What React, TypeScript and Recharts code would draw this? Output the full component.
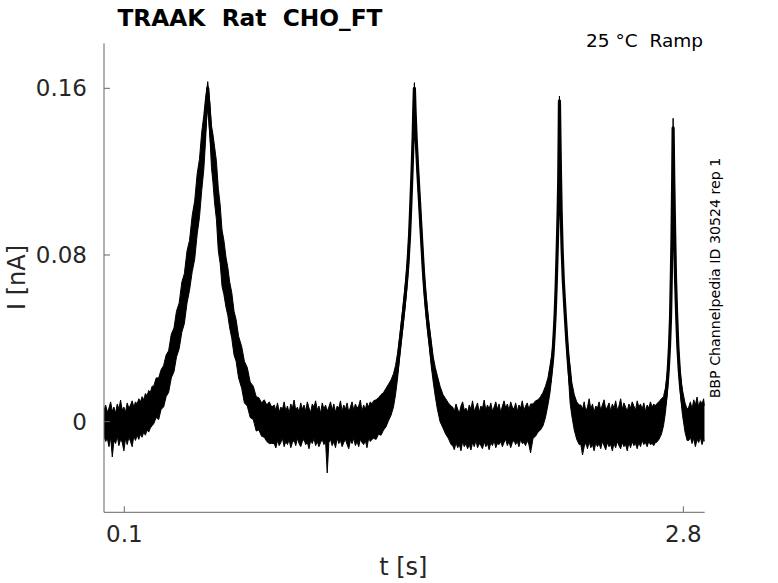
import React from "react";
import { ComposedChart, Area, Line, XAxis, YAxis } from "recharts";

// Baseline rows: [t (s), noise low (nA), noise high (nA)]
// Peak rows:     [t (s), band low (nA), band high (nA), trace centre (nA)]
const baseline0: number[][] = [
  [0.002, -0.007, 0.0055], [0.01, -0.0095, 0.008], [0.018, -0.008, 0.0045], [0.026, -0.012, 0.0065],
  [0.034, -0.0075, 0.0095], [0.042, -0.0169, 0.005], [0.05, -0.009, 0.007], [0.058, -0.0105, 0.004],
  [0.066, -0.007, 0.0085], [0.074, -0.0115, 0.006], [0.082, -0.0085, 0.0104], [0.09, -0.01, 0.0055],
  [0.098, -0.014, 0.007], [0.106, -0.008, 0.0045], [0.114, -0.011, 0.009], [0.122, -0.0075, 0.0065],
  [0.13, -0.0095, 0.008], [0.138, -0.012, 0.01], [0.146, -0.007, 0.007], [0.154, -0.009, 0.0095],
  [0.162, -0.0065, 0.0085], [0.17, -0.0085, 0.011], [0.178, -0.006, 0.0095], [0.186, -0.0075, 0.012],
  [0.194, -0.005, 0.0105], [0.202, -0.0065, 0.0135], [0.21, -0.004, 0.0125], [0.218, -0.005, 0.015],
  [0.226, -0.003, 0.014], [0.234, -0.002, 0.017],
];

const peak1: number[][] = [
  [0.242, -0.001, 0.017, 0.008], [0.254, 0.002, 0.021, 0.01], [0.266, 0.001, 0.021, 0.012],
  [0.278, 0.006, 0.025, 0.014], [0.29, 0.007, 0.027, 0.018], [0.302, 0.012, 0.032, 0.021],
  [0.314, 0.014, 0.034, 0.025], [0.327, 0.021, 0.042, 0.03], [0.34, 0.024, 0.045, 0.035],
  [0.352, 0.031, 0.053, 0.041], [0.365, 0.035, 0.057, 0.047], [0.378, 0.043, 0.067, 0.053],
  [0.39, 0.047, 0.071, 0.06], [0.403, 0.057, 0.082, 0.068], [0.415, 0.063, 0.087, 0.076],
  [0.428, 0.072, 0.099, 0.084], [0.44, 0.078, 0.106, 0.093], [0.452, 0.09, 0.119, 0.103],
  [0.463, 0.098, 0.126, 0.113], [0.474, 0.111, 0.139, 0.124], [0.484, 0.121, 0.147, 0.135],
  [0.492, 0.134, 0.155, 0.145], [0.498, 0.146, 0.159, 0.153], [0.503, 0.156, 0.1632, 0.16],
  [0.508, 0.146, 0.158, 0.152], [0.514, 0.136, 0.152, 0.143], [0.521, 0.122, 0.142, 0.134],
  [0.528, 0.115, 0.138, 0.127], [0.536, 0.105, 0.132, 0.121], [0.545, 0.097, 0.125, 0.11],
  [0.554, 0.082, 0.112, 0.099], [0.563, 0.076, 0.104, 0.089], [0.572, 0.065, 0.092, 0.08],
  [0.581, 0.061, 0.087, 0.074], [0.591, 0.055, 0.079, 0.068], [0.6, 0.051, 0.074, 0.062],
  [0.609, 0.045, 0.067, 0.057], [0.619, 0.04, 0.062, 0.05], [0.63, 0.032, 0.053, 0.043],
  [0.64, 0.029, 0.049, 0.038], [0.652, 0.021, 0.041, 0.031], [0.667, 0.016, 0.036, 0.025],
  [0.68, 0.009, 0.029, 0.02], [0.694, 0.0075, 0.026, 0.016], [0.708, 0.002, 0.019, 0.012],
  [0.723, 0.001, 0.017, 0.009], [0.737, -0.0045, 0.012, 0.006], [0.75, -0.004, 0.0115, 0.004],
  [0.763, -0.007, 0.009, 0.003], [0.776, -0.0075, 0.0105, 0.001], [0.788, -0.0095, 0.008, 0.0],
  [0.8, -0.0105, 0.0095, -0.001], [0.812, -0.0105, 0.007, -0.001],
];

const baseline1: number[][] = [
  [0.824, -0.0105, 0.008], [0.832, -0.0126, 0.0055], [0.84, -0.009, 0.009], [0.848, -0.0115, 0.0045],
  [0.856, -0.01, 0.007], [0.864, -0.008, 0.006], [0.872, -0.012, 0.0095], [0.88, -0.0095, 0.005],
  [0.888, -0.011, 0.0075], [0.896, -0.0085, 0.004], [0.904, -0.0125, 0.0085], [0.912, -0.01, 0.0065],
  [0.92, -0.009, 0.0104], [0.928, -0.0115, 0.0055], [0.936, -0.008, 0.007], [0.944, -0.0105, 0.0045],
  [0.952, -0.012, 0.009], [0.96, -0.0095, 0.006], [0.968, -0.0085, 0.008], [0.976, -0.011, 0.005],
  [0.984, -0.01, 0.0095], [0.992, -0.013, 0.0065], [1.0, -0.009, 0.0045], [1.008, -0.0105, 0.0085],
  [1.016, -0.008, 0.007], [1.024, -0.0115, 0.01], [1.032, -0.0095, 0.0055], [1.04, -0.012, 0.0075],
  [1.048, -0.01, 0.004], [1.056, -0.0085, 0.009], [1.064, -0.011, 0.006], [1.072, -0.0095, 0.008],
  [1.08, -0.0246, 0.005], [1.088, -0.01, 0.007], [1.096, -0.0085, 0.0095], [1.104, -0.0115, 0.0055],
  [1.112, -0.0095, 0.0085], [1.12, -0.0125, 0.0045], [1.128, -0.008, 0.0075], [1.136, -0.0105, 0.0065],
  [1.144, -0.009, 0.01], [1.152, -0.012, 0.005], [1.16, -0.01, 0.008], [1.168, -0.0085, 0.006],
  [1.176, -0.011, 0.009], [1.184, -0.013, 0.0045], [1.192, -0.009, 0.007], [1.2, -0.0105, 0.0095],
  [1.208, -0.008, 0.0055], [1.216, -0.0115, 0.0085], [1.224, -0.0095, 0.0065], [1.232, -0.012, 0.0075],
  [1.24, -0.0085, 0.0104], [1.248, -0.01, 0.005], [1.256, -0.011, 0.008], [1.264, -0.009, 0.006],
  [1.272, -0.0125, 0.009], [1.28, -0.008, 0.007], [1.288, -0.0095, 0.0095], [1.296, -0.0085, 0.0085],
];

const peak2: number[][] = [
  [1.304, -0.008, 0.01, 0.0], [1.316, -0.0085, 0.0105, 0.001], [1.328, -0.006, 0.0115, 0.002],
  [1.34, -0.0065, 0.013, 0.003], [1.352, -0.004, 0.014, 0.005], [1.364, -0.0025, 0.016, 0.007],
  [1.376, 0.0005, 0.018, 0.009], [1.388, 0.003, 0.02, 0.011], [1.4, 0.007, 0.023, 0.015],
  [1.41, 0.013, 0.027, 0.02], [1.42, 0.021, 0.033, 0.027], [1.43, 0.031, 0.041, 0.036],
  [1.44, 0.04, 0.05, 0.045], [1.452, 0.051, 0.061, 0.056], [1.462, 0.061, 0.071, 0.066],
  [1.47, 0.071, 0.081, 0.076], [1.478, 0.085, 0.095, 0.09], [1.484, 0.1, 0.11, 0.105],
  [1.49, 0.116, 0.126, 0.121], [1.495, 0.133, 0.141, 0.137], [1.498, 0.146, 0.154, 0.15],
  [1.501, 0.157, 0.1627, 0.16], [1.504, 0.146, 0.154, 0.15], [1.509, 0.133, 0.141, 0.137],
  [1.517, 0.116, 0.126, 0.121], [1.526, 0.1, 0.11, 0.105], [1.535, 0.084, 0.094, 0.089],
  [1.544, 0.068, 0.078, 0.073], [1.551, 0.058, 0.068, 0.063], [1.558, 0.05, 0.06, 0.055],
  [1.566, 0.042, 0.052, 0.047], [1.573, 0.036, 0.046, 0.041], [1.582, 0.027, 0.039, 0.033],
  [1.592, 0.019, 0.031, 0.025], [1.602, 0.012, 0.026, 0.019], [1.612, 0.006, 0.022, 0.014],
  [1.625, 0.0, 0.017, 0.009], [1.639, -0.003, 0.013, 0.006], [1.652, -0.006, 0.011, 0.003],
  [1.665, -0.008, 0.009, 0.001], [1.678, -0.011, 0.0075, -0.001],
];

const baseline2: number[][] = [
  [1.686, -0.0115, 0.007], [1.694, -0.0135, 0.005], [1.702, -0.01, 0.0085], [1.71, -0.0125, 0.006],
  [1.718, -0.011, 0.004], [1.726, -0.014, 0.0075], [1.734, -0.0095, 0.0095], [1.742, -0.012, 0.0055],
  [1.75, -0.0105, 0.0065], [1.758, -0.013, 0.0045], [1.766, -0.011, 0.008], [1.774, -0.0136, 0.006],
  [1.782, -0.01, 0.01], [1.79, -0.012, 0.005], [1.798, -0.009, 0.007], [1.806, -0.0125, 0.009],
  [1.814, -0.0105, 0.0045], [1.822, -0.0115, 0.0075], [1.83, -0.013, 0.0065], [1.838, -0.0095, 0.0104],
  [1.846, -0.012, 0.0055], [1.854, -0.0105, 0.008], [1.862, -0.0135, 0.006], [1.87, -0.01, 0.009],
  [1.878, -0.0115, 0.005], [1.886, -0.009, 0.007], [1.894, -0.0125, 0.0095], [1.902, -0.0105, 0.006],
  [1.91, -0.011, 0.0085], [1.918, -0.0095, 0.0045], [1.926, -0.012, 0.0075], [1.934, -0.01, 0.01],
  [1.942, -0.0085, 0.0065], [1.95, -0.0115, 0.0085], [1.958, -0.0095, 0.0055], [1.966, -0.0125, 0.0095],
  [1.974, -0.01, 0.007], [1.982, -0.009, 0.006], [1.99, -0.011, 0.009], [1.998, -0.0095, 0.005],
  [2.006, -0.012, 0.008], [2.014, -0.0085, 0.0065], [2.022, -0.0105, 0.01], [2.03, -0.01, 0.0055],
  [2.038, -0.0115, 0.0075], [2.046, -0.009, 0.009], [2.054, -0.011, 0.006], [2.062, -0.015, 0.0085],
];

const peak3: number[][] = [
  [2.074, -0.008, 0.0085, 0.0], [2.086, -0.007, 0.01, 0.001], [2.098, -0.005, 0.0105, 0.002],
  [2.11, -0.004, 0.012, 0.004], [2.122, -0.002, 0.014, 0.006], [2.134, 0.002, 0.017, 0.009],
  [2.146, 0.008, 0.021, 0.014], [2.156, 0.014, 0.027, 0.02], [2.164, 0.021, 0.032, 0.026],
  [2.17, 0.028, 0.037, 0.032], [2.176, 0.038, 0.046, 0.042], [2.181, 0.049, 0.055, 0.052],
  [2.186, 0.063, 0.069, 0.066], [2.191, 0.081, 0.087, 0.084], [2.195, 0.097, 0.103, 0.1],
  [2.198, 0.113, 0.119, 0.116], [2.2, 0.133, 0.139, 0.136], [2.2015, 0.151, 0.1563, 0.154],
  [2.204, 0.133, 0.139, 0.136], [2.207, 0.113, 0.119, 0.116], [2.21, 0.097, 0.103, 0.1],
  [2.214, 0.081, 0.087, 0.084], [2.22, 0.065, 0.071, 0.068], [2.229, 0.049, 0.055, 0.052],
  [2.237, 0.035, 0.043, 0.039], [2.245, 0.022, 0.033, 0.028], [2.253, 0.009, 0.027, 0.019],
  [2.261, 0.003, 0.019, 0.012], [2.273, -0.004, 0.013, 0.007], [2.285, -0.0085, 0.0095, 0.001],
  [2.297, -0.011, 0.008, -0.001],
];

const baseline3: number[][] = [
  [2.305, -0.011, 0.008], [2.313, -0.016, 0.006], [2.321, -0.012, 0.0095], [2.329, -0.01, 0.005],
  [2.337, -0.013, 0.007], [2.345, -0.0095, 0.011], [2.353, -0.0125, 0.006], [2.361, -0.011, 0.0085],
  [2.369, -0.014, 0.0045], [2.377, -0.01, 0.0075], [2.385, -0.012, 0.0065], [2.393, -0.0105, 0.0095],
  [2.401, -0.013, 0.0055], [2.409, -0.0095, 0.008], [2.417, -0.0115, 0.0105], [2.425, -0.0135, 0.006],
  [2.433, -0.01, 0.007], [2.441, -0.012, 0.009], [2.449, -0.011, 0.005], [2.457, -0.014, 0.0085],
  [2.465, -0.0105, 0.0065], [2.473, -0.0125, 0.01], [2.481, -0.0095, 0.0055], [2.489, -0.0115, 0.0075],
  [2.497, -0.013, 0.011], [2.505, -0.01, 0.006], [2.513, -0.012, 0.009], [2.521, -0.011, 0.007],
  [2.529, -0.014, 0.005], [2.537, -0.01, 0.0085], [2.545, -0.0125, 0.0065], [2.553, -0.0095, 0.0095],
  [2.561, -0.0115, 0.0075], [2.569, -0.0105, 0.0055], [2.577, -0.013, 0.01], [2.585, -0.01, 0.007],
  [2.593, -0.012, 0.0085], [2.601, -0.009, 0.006], [2.609, -0.011, 0.009], [2.617, -0.01, 0.005],
  [2.625, -0.012, 0.008], [2.633, -0.0095, 0.0065], [2.641, -0.011, 0.0095], [2.649, -0.0105, 0.007],
  [2.657, -0.0115, 0.0085], [2.665, -0.01, 0.0075],
];

const peak4: number[][] = [
  [2.67, -0.01, 0.0085, -0.001], [2.682, -0.0085, 0.0095, 0.0], [2.694, -0.006, 0.011, 0.002],
  [2.704, -0.002, 0.012, 0.005], [2.713, 0.004, 0.016, 0.01], [2.721, 0.012, 0.022, 0.017],
  [2.727, 0.021, 0.029, 0.025], [2.733, 0.033, 0.039, 0.036], [2.738, 0.047, 0.053, 0.05],
  [2.7415, 0.0655, 0.0705, 0.068], [2.745, 0.0855, 0.0905, 0.088], [2.7483, 0.1135, 0.1185, 0.116],
  [2.7505, 0.139, 0.1456, 0.141], [2.7536, 0.1135, 0.1185, 0.116], [2.758, 0.0875, 0.0925, 0.09],
  [2.7623, 0.0655, 0.0705, 0.068], [2.768, 0.047, 0.053, 0.05], [2.7734, 0.033, 0.039, 0.036],
  [2.78, 0.021, 0.029, 0.025], [2.7865, 0.012, 0.022, 0.017], [2.796, 0.003, 0.015, 0.009],
  [2.808, -0.005, 0.009, 0.002], [2.818, -0.009, 0.006, -0.002],
];

const baseline4: number[][] = [
  [2.826, -0.009, 0.007], [2.834, -0.0075, 0.0095], [2.842, -0.0105, 0.006], [2.85, -0.008, 0.0105],
  [2.858, -0.012, 0.008], [2.866, -0.0085, 0.0118], [2.874, -0.01, 0.007], [2.882, -0.0075, 0.01],
  [2.89, -0.011, 0.0085], [2.898, -0.0085, 0.011], [2.903, -0.0095, 0.0075],
];

const X_DOMAIN = [0.002, 2.903];
const Y_DOMAIN = [-0.0435, 0.1816];
const X_TICKS = [0.1, 2.8];
const Y_TICKS = [0, 0.08, 0.16];

const TITLE = "TRAAK  Rat  CHO_FT";
const CONDITION = "25 °C  Ramp";
const SOURCE = "BBP Channelpedia ID 30524 rep 1";
const X_LABEL = "t [s]";
const Y_LABEL = "I [nA]";

const rows = [
  ...baseline0, ...peak1, ...baseline1, ...peak2, ...baseline2, ...peak3, ...baseline3, ...peak4, ...baseline4,
].map((r) => ({ t: r[0], band: [r[1], r[2]], mid: r.length > 3 ? r[3] : null }));

const FONT = "DejaVu Sans";
const tickStyle = { fill: "#262626", fontSize: 23, fontFamily: FONT };

export default function App() {
  return (
    <div style={{ position: "absolute", left: 0, top: 0, width: 778, height: 583, background: "#fff" }}>
      <ComposedChart width={778} height={583} data={rows} margin={{ top: 43.3, right: 73.3, bottom: 20.7, left: 44 }}>
        <XAxis
          dataKey="t"
          type="number"
          domain={X_DOMAIN}
          ticks={X_TICKS}
          allowDataOverflow
          height={50}
          tickSize={-6}
          tickMargin={19}
          axisLine={{ stroke: "#666" }}
          tickLine={{ stroke: "#666" }}
          tick={tickStyle}
        />
        <YAxis
          type="number"
          domain={Y_DOMAIN}
          ticks={Y_TICKS}
          allowDataOverflow
          width={60}
          tickSize={-6}
          tickMargin={23}
          axisLine={{ stroke: "#666" }}
          tickLine={{ stroke: "#666" }}
          tick={tickStyle}
        />
        <Area
          dataKey="band"
          type="linear"
          fill="#000"
          fillOpacity={1}
          stroke="#000"
          strokeWidth={1}
          dot={false}
          activeDot={false}
          isAnimationActive={false}
        />
        <Line
          dataKey="mid"
          type="linear"
          stroke="#000"
          strokeWidth={3.2}
          strokeLinejoin="round"
          connectNulls={false}
          dot={false}
          activeDot={false}
          isAnimationActive={false}
        />
      </ComposedChart>
      <svg width={778} height={583} style={{ position: "absolute", left: 0, top: 0, pointerEvents: "none" }}>
        <text x={250} y={26} textAnchor="middle" fontFamily={FONT} fontWeight="bold" fontSize={23.3} fill="#000" style={{ whiteSpace: "pre" }}>
          {TITLE}
        </text>
        <text x={703} y={46.7} textAnchor="end" fontFamily={FONT} fontSize={18.5} fill="#000" style={{ whiteSpace: "pre" }}>
          {CONDITION}
        </text>
        <text x={720} y={278} textAnchor="middle" fontFamily={FONT} fontSize={14.2} fill="#000" transform="rotate(-90 720 278)">
          {SOURCE}
        </text>
        <text x={403.3} y={575} textAnchor="middle" fontFamily={FONT} fontSize={24} fill="#262626">
          {X_LABEL}
        </text>
        <text x={25} y={277.5} textAnchor="middle" fontFamily={FONT} fontSize={24} fill="#262626" transform="rotate(-90 25 277.5)">
          {Y_LABEL}
        </text>
      </svg>
    </div>
  );
}
